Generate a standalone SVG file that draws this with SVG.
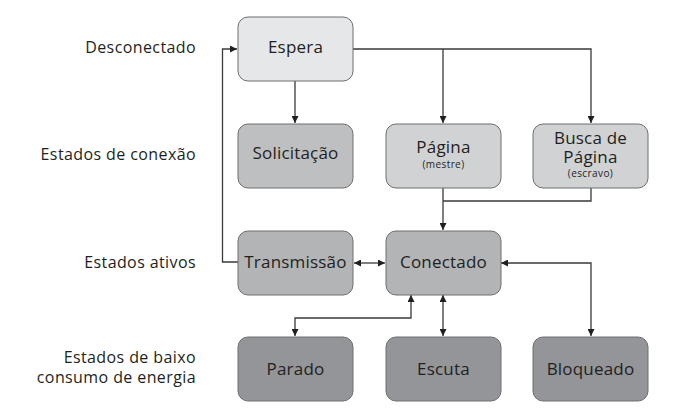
<svg xmlns="http://www.w3.org/2000/svg" width="679" height="409" viewBox="0 0 679 409">
<style>
text{font-family:"Open Sans","Noto Sans","Liberation Sans",sans-serif;fill:#231f20}
.lbl{font-size:16px;letter-spacing:0.4px;text-anchor:end}
.t{font-size:17px;letter-spacing:0.2px;text-anchor:middle}
.s{font-size:10px;letter-spacing:0.4px;text-anchor:middle}
.box{stroke:#6d6e71;stroke-width:1}
.c0{fill:#e6e7e8}.c1{fill:#bebfc1}.c2{fill:#d1d2d4}.c3{fill:#b2b4b6}.c4{fill:#939598}
.ln{fill:none;stroke:#3a3a3a;stroke-width:1.3}
</style>
<defs>
<marker id="ah" viewBox="0 0 10 10" refX="10" refY="5" markerWidth="7" markerHeight="7" markerUnits="userSpaceOnUse" orient="auto-start-reverse">
<path d="M0,0 L10,5 L0,10 z" fill="#231f20"/>
</marker>
</defs>
<g id="labels">
<text class="lbl" x="196" y="53">Desconectado</text>
<text class="lbl" x="196" y="160">Estados de conexão</text>
<text class="lbl" x="196" y="268">Estados ativos</text>
<text class="lbl" x="196" y="363">Estados de baixo</text>
<text class="lbl" x="196" y="383">consumo de energia</text>
</g>
<g id="connectors">
<path class="ln" d="M353,49 H591 V123" marker-end="url(#ah)"/>
<path class="ln" d="M443,49 V123" marker-end="url(#ah)"/>
<path class="ln" d="M295,81 V123" marker-end="url(#ah)"/>
<path class="ln" d="M238,262 H222.5 V49 H237" marker-end="url(#ah)"/>
<path class="ln" d="M443,188 V230" marker-end="url(#ah)"/>
<path class="ln" d="M591,188 V201 H443"/>
<path class="ln" d="M354,263 H385" marker-start="url(#ah)" marker-end="url(#ah)"/>
<path class="ln" d="M501,263 H591 V336" marker-start="url(#ah)" marker-end="url(#ah)"/>
<path class="ln" d="M411,295 V318 H295 V336" marker-start="url(#ah)" marker-end="url(#ah)"/>
<path class="ln" d="M443,295 V336" marker-start="url(#ah)" marker-end="url(#ah)"/>
</g>
<g id="espera"><rect class="box c0" x="238" y="17" width="115" height="64" rx="10"/><text class="t" x="295.5" y="53">Espera</text></g>
<g id="solicitacao"><rect class="box c1" x="238" y="124" width="115" height="64" rx="10"/><text class="t" x="295.5" y="159">Solicitação</text></g>
<g id="pagina"><rect class="box c2" x="386" y="124" width="115" height="64" rx="10"/><text class="t" x="443.5" y="153">Página</text><text class="s" x="443.5" y="168">(mestre)</text></g>
<g id="busca"><rect class="box c2" x="533" y="124" width="115" height="64" rx="10"/><text class="t" x="590.5" y="144">Busca de</text><text class="t" x="590.5" y="163">Página</text><text class="s" x="590.5" y="177">(escravo)</text></g>
<g id="transmissao"><rect class="box c3" x="238" y="231" width="115" height="64" rx="10"/><text class="t" x="295.5" y="268">Transmissão</text></g>
<g id="conectado"><rect class="box c3" x="386" y="231" width="115" height="64" rx="10"/><text class="t" x="443.5" y="268">Conectado</text></g>
<g id="parado"><rect class="box c4" x="238" y="337" width="115" height="64" rx="10"/><text class="t" x="295.5" y="375">Parado</text></g>
<g id="escuta"><rect class="box c4" x="386" y="337" width="115" height="64" rx="10"/><text class="t" x="443.5" y="375">Escuta</text></g>
<g id="bloqueado"><rect class="box c4" x="533" y="337" width="115" height="64" rx="10"/><text class="t" x="590.5" y="375">Bloqueado</text></g>
</svg>
